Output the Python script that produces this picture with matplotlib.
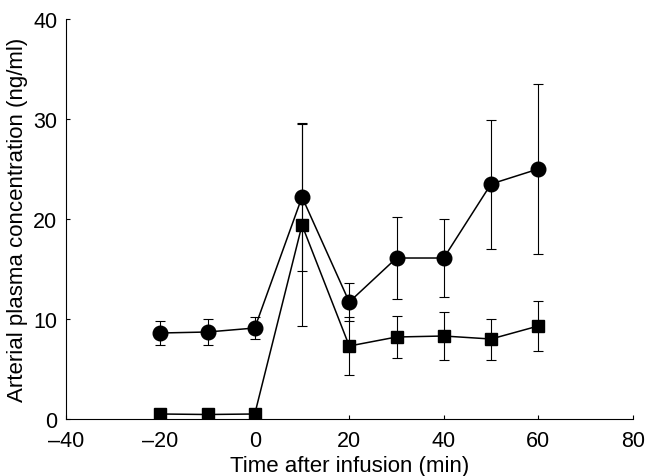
import matplotlib
matplotlib.use("Agg")
import matplotlib.pyplot as plt

plt.rcParams['font.family'] = ['Liberation Sans', 'DejaVu Sans']

time = [-20, -10, 0, 10, 20, 30, 40, 50, 60]
circle_mean = [8.6, 8.7, 9.1, 22.2, 11.7, 16.1, 16.1, 23.5, 25.0]
circle_err = [1.2, 1.3, 1.1, 7.4, 1.9, 4.1, 3.9, 6.45, 8.5]
square_time = [-20, -10, 0, 10, 20, 30, 40, 50, 60]
square_mean = [0.5, 0.45, 0.5, 19.4, 7.3, 8.2, 8.3, 8.0, 9.3]
square_err = [0.0, 0.0, 0.0, 10.1, 2.9, 2.1, 2.4, 2.05, 2.5]

xticks = [-40, -20, 0, 20, 40, 60, 80]
yticks = [0, 10, 20, 30, 40]

fig = plt.figure(figsize=(6.45, 4.77), dpi=100)
ax = fig.add_axes([0.102, 0.1195, 0.879, 0.8385])

ax.errorbar(time, circle_mean, yerr=circle_err, fmt='none', ecolor='black',
            elinewidth=0.8, capsize=3.5, capthick=0.8, zorder=2)
ax.errorbar(square_time, square_mean, yerr=square_err, fmt='none', ecolor='black',
            elinewidth=0.8, capsize=3.5, capthick=0.8, zorder=2)
ax.plot(time, circle_mean, color='black', lw=1.1, marker='o', markersize=10.5, zorder=3)
ax.plot(square_time, square_mean, color='black', lw=1.1, marker='s', markersize=8, zorder=3)

ax.set_xlim(-40, 80)
ax.set_ylim(0, 40)
ax.set_xticks(xticks)
ax.set_yticks(yticks)
ax.set_xticklabels([str(t).replace('-', '\u2013') for t in xticks])
ax.tick_params(direction='in', length=3, width=0.8, labelsize=15.5)
ax.tick_params(axis='x', pad=8)
ax.tick_params(axis='y', pad=6)
for s in ['top', 'right']:
    ax.spines[s].set_visible(False)
for s in ['left', 'bottom']:
    ax.spines[s].set_linewidth(0.8)

ax.set_xlabel('Time after infusion (min)', fontsize=16, labelpad=3)
ax.set_ylabel('Arterial plasma concentration (ng/ml)', fontsize=16, labelpad=4)

fig.savefig('out.png', dpi=100)
